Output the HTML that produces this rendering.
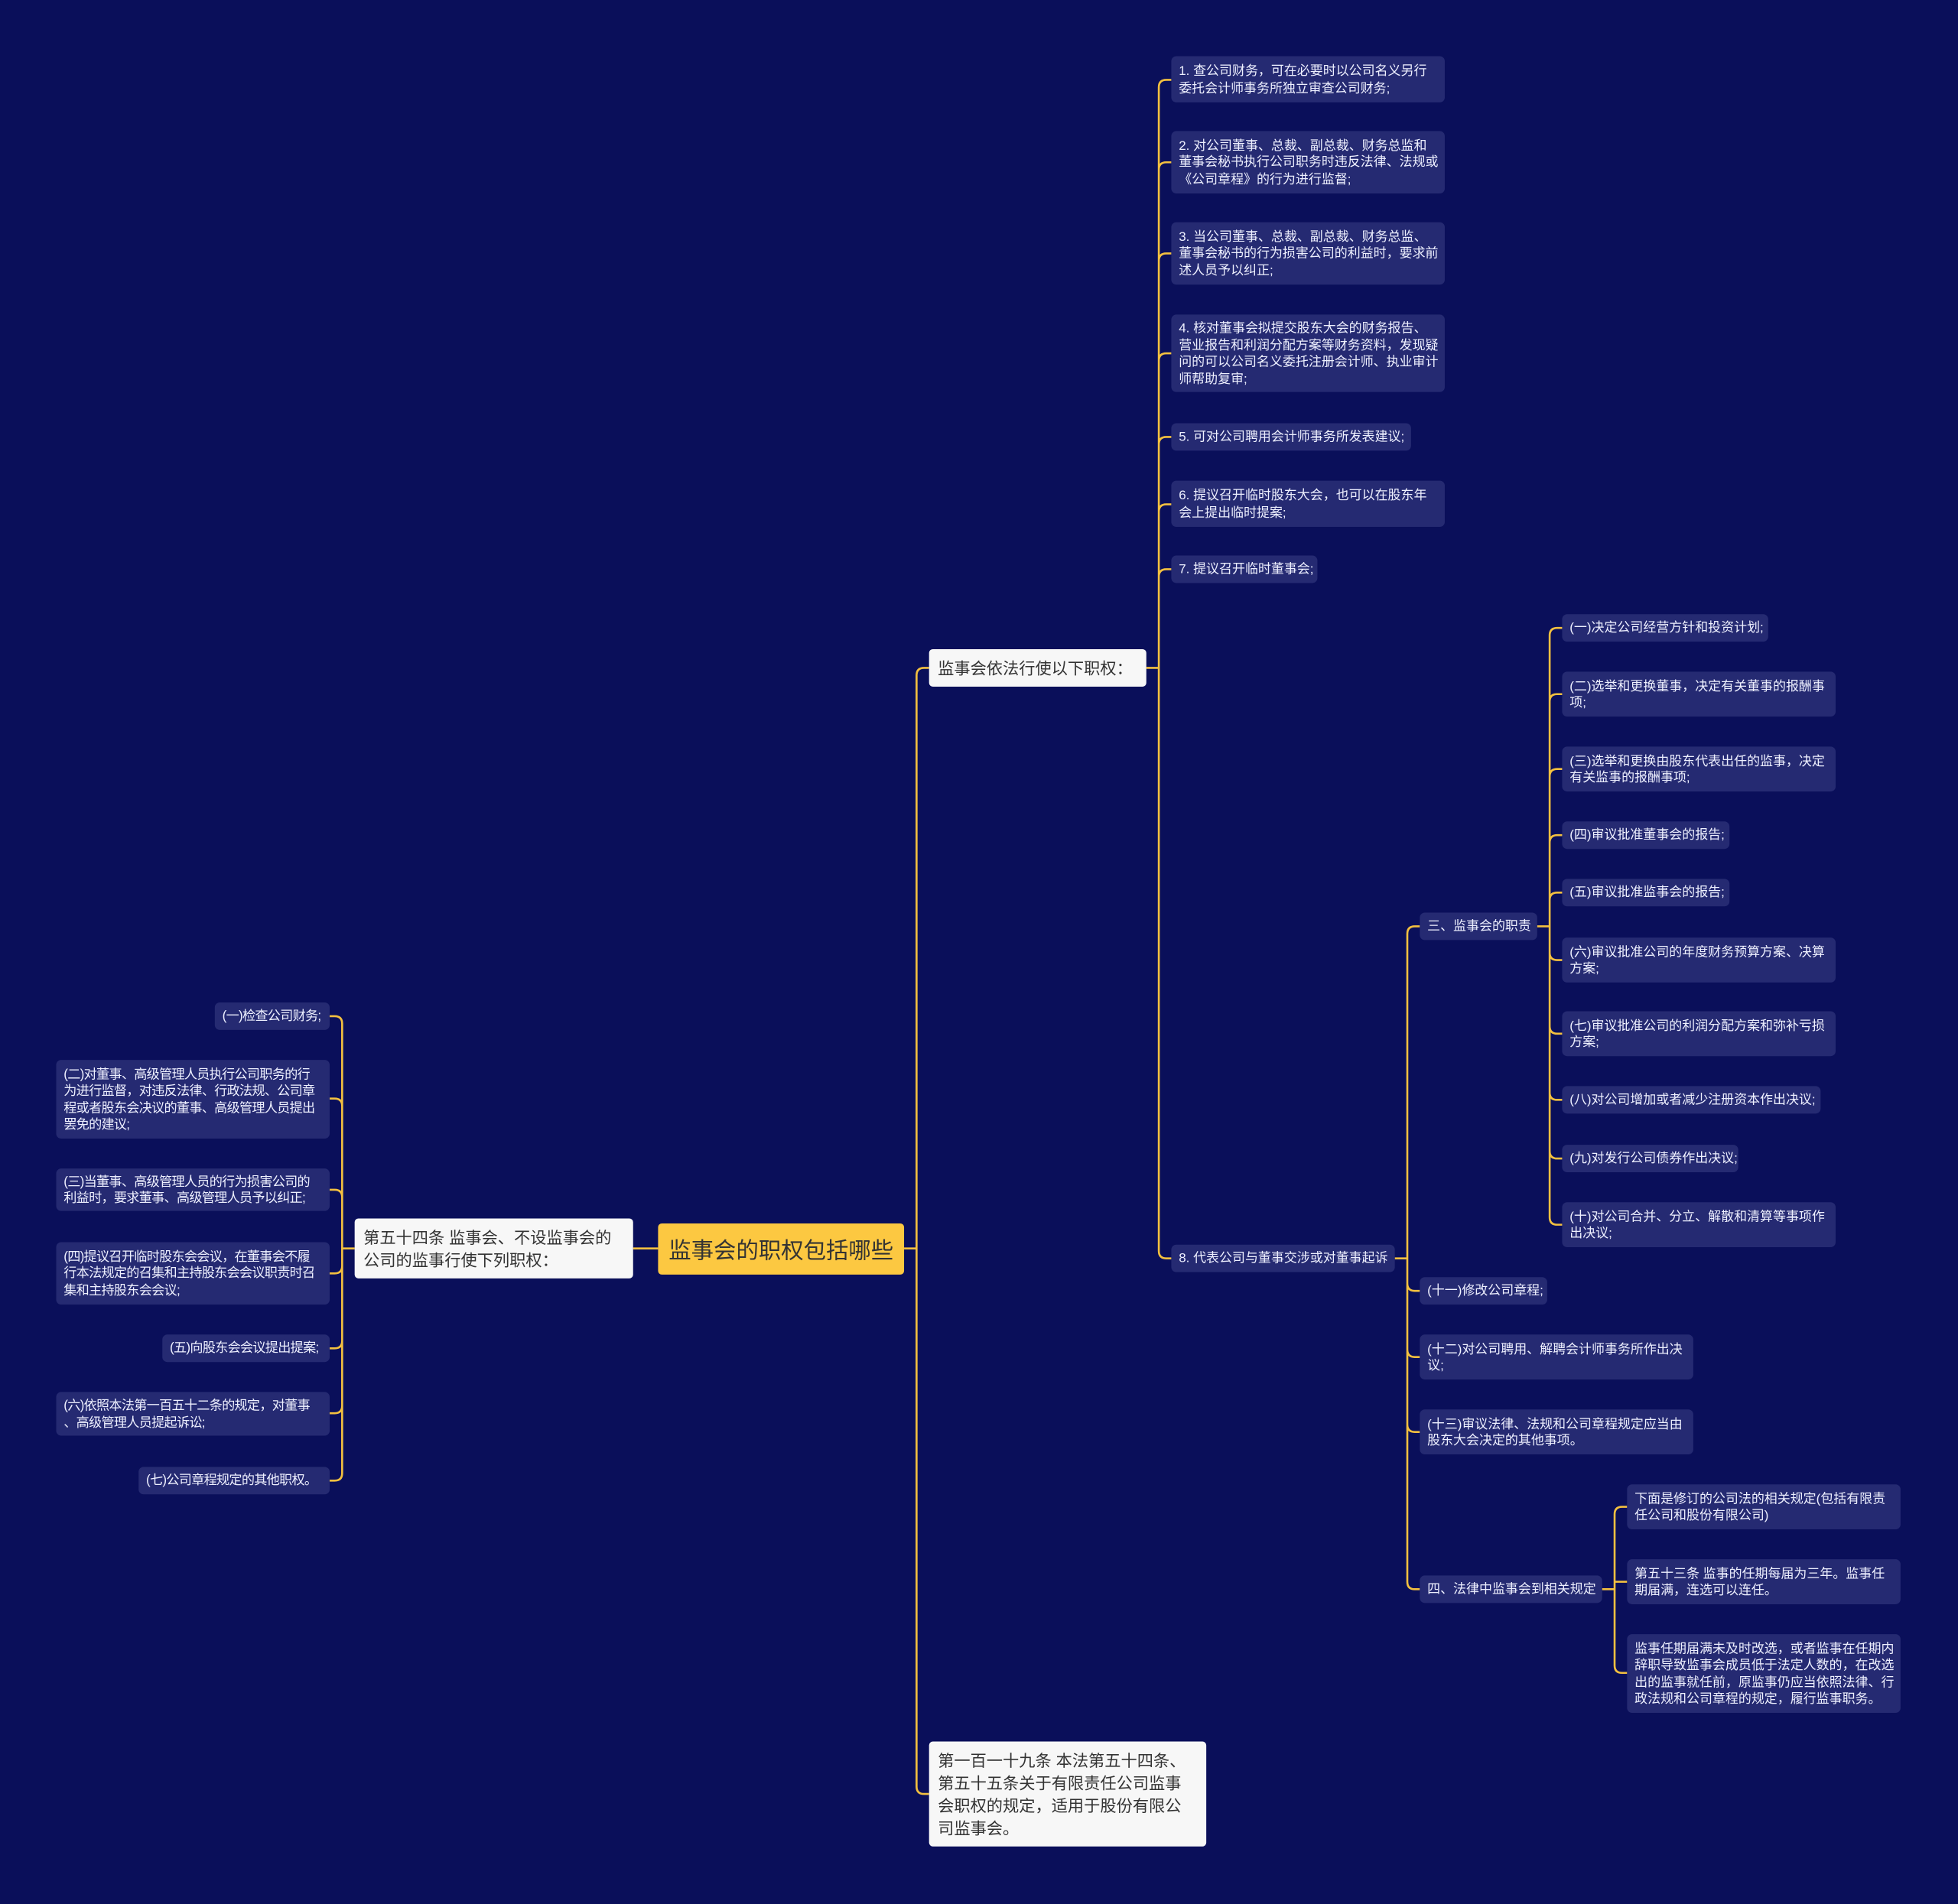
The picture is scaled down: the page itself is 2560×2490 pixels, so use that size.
<!DOCTYPE html>
<html><head><meta charset="utf-8">
<style>
html,body{margin:0;padding:0;background:#0a0f5a;width:2560px;height:2489px;overflow:hidden}
#c{position:absolute;left:0;top:0;width:1568px;height:1525px;transform:scale(1.63265);transform-origin:0 0;font-family:"Liberation Sans","Noto Sans CJK SC",sans-serif}
.n{position:absolute;background:#252a72;color:#eef0ff;font-size:10.4px;line-height:13.5px;border-radius:4px;box-sizing:border-box;padding:2px 5px 0 6px;display:flex;align-items:center;white-space:nowrap}
.l{font-size:10.5px;letter-spacing:-0.45px}
.w{position:absolute;background:#f7f7f7;color:#333;font-size:13px;line-height:18px;border-radius:3px;box-sizing:border-box;padding:2px 7px 0;display:flex;align-items:center;white-space:nowrap}
.root{position:absolute;background:#fcc841;color:#333;font-size:18px;border-radius:3px;display:flex;align-items:center;justify-content:center;left:527px;top:980px;width:197px;height:41px}
svg{position:absolute;left:0;top:0}
</style></head><body><div id="c">
<svg width="1568" height="1525" fill="none" stroke="#f3c040" stroke-width="1.6">
<path d="M724,1000H734M734,1000V541Q734,535 740,535H744M734,1000V1431Q734,1437 740,1437H744"/>
<path d="M527,1000H507"/>
<path d="M284,1000H274M274,1000V820Q274,814 268,814H264M274,1000V886Q274,880 268,880H264M274,1000V959Q274,953 268,953H264M274,1000V1014Q274,1020 268,1020H264M274,1000V1074Q274,1080 268,1080H264M274,1000V1126Q274,1132 268,1132H264M274,1000V1180Q274,1186 268,1186H264"/>
<path d="M918,535H928M928,535V70Q928,64 934,64H938M928,535V136Q928,130 934,130H938M928,535V209Q928,203 934,203H938M928,535V289Q928,283 934,283H938M928,535V356Q928,350 934,350H938M928,535V410Q928,404 934,404H938M928,535V462Q928,456 934,456H938M928,535V1002Q928,1008 934,1008H938"/>
<path d="M1117,1008H1127M1127,1008V748Q1127,742 1133,742H1137M1127,1008V1028Q1127,1034 1133,1034H1137M1127,1008V1081Q1127,1087 1133,1087H1137M1127,1008V1141Q1127,1147 1133,1147H1137M1127,1008V1267Q1127,1273 1133,1273H1137"/>
<path d="M1231,742H1241M1241,742V509Q1241,503 1247,503H1251M1241,742V562Q1241,556 1247,556H1251M1241,742V622Q1241,616 1247,616H1251M1241,742V675Q1241,669 1247,669H1251M1241,742V721Q1241,715 1247,715H1251M1241,742V763Q1241,769 1247,769H1251M1241,742V822Q1241,828 1247,828H1251M1241,742V875Q1241,881 1247,881H1251M1241,742V922Q1241,928 1247,928H1251M1241,742V975Q1241,981 1247,981H1251"/>
<path d="M1283,1273H1293M1293,1273V1213Q1293,1207 1299,1207H1303M1293,1273V1267H1303M1293,1273V1334Q1293,1340 1299,1340H1303"/>
</svg>

<div class="root">监事会的职权包括哪些</div>
<div class="w" style="left:284px;top:976px;width:223px;height:48px">第五十四条 监事会、不设监事会的<br>公司的监事行使下列职权：</div>
<div class="w" style="left:744px;top:520px;width:174px;height:30px">监事会依法行使以下职权：</div>
<div class="w" style="left:744px;top:1395px;width:222px;height:84px">第一百一十九条 本法第五十四条、<br>第五十五条关于有限责任公司监事<br>会职权的规定，适用于股份有限公<br>司监事会。</div>

<div class="n l" style="left:172px;top:803px;width:92px;height:22px">(一)检查公司财务;</div>
<div class="n l" style="left:45px;top:849px;width:219px;height:63px">(二)对董事、高级管理人员执行公司职务的行<br>为进行监督，对违反法律、行政法规、公司章<br>程或者股东会决议的董事、高级管理人员提出<br>罢免的建议;</div>
<div class="n l" style="left:45px;top:936px;width:219px;height:34px">(三)当董事、高级管理人员的行为损害公司的<br>利益时，要求董事、高级管理人员予以纠正;</div>
<div class="n l" style="left:45px;top:995px;width:219px;height:50px">(四)提议召开临时股东会会议，在董事会不履<br>行本法规定的召集和主持股东会会议职责时召<br>集和主持股东会会议;</div>
<div class="n l" style="left:130px;top:1069px;width:134px;height:22px">(五)向股东会会议提出提案;</div>
<div class="n l" style="left:45px;top:1115px;width:219px;height:35px">(六)依照本法第一百五十二条的规定，对董事<br>、高级管理人员提起诉讼;</div>
<div class="n l" style="left:111px;top:1175px;width:153px;height:22px">(七)公司章程规定的其他职权。</div>

<div class="n" style="left:938px;top:45px;width:219px;height:37px">1. 查公司财务，可在必要时以公司名义另行<br>委托会计师事务所独立审查公司财务;</div>
<div class="n" style="left:938px;top:105px;width:219px;height:50px">2. 对公司董事、总裁、副总裁、财务总监和<br>董事会秘书执行公司职务时违反法律、法规或<br>《公司章程》的行为进行监督;</div>
<div class="n" style="left:938px;top:178px;width:219px;height:50px">3. 当公司董事、总裁、副总裁、财务总监、<br>董事会秘书的行为损害公司的利益时，要求前<br>述人员予以纠正;</div>
<div class="n" style="left:938px;top:252px;width:219px;height:62px">4. 核对董事会拟提交股东大会的财务报告、<br>营业报告和利润分配方案等财务资料，发现疑<br>问的可以公司名义委托注册会计师、执业审计<br>师帮助复审;</div>
<div class="n" style="left:938px;top:339px;width:192px;height:22px">5. 可对公司聘用会计师事务所发表建议;</div>
<div class="n" style="left:938px;top:385px;width:219px;height:37px">6. 提议召开临时股东大会，也可以在股东年<br>会上提出临时提案;</div>
<div class="n" style="left:938px;top:445px;width:117px;height:22px">7. 提议召开临时董事会;</div>
<div class="n" style="left:938px;top:997px;width:179px;height:22px">8. 代表公司与董事交涉或对董事起诉</div>

<div class="n" style="left:1137px;top:731px;width:94px;height:22px">三、监事会的职责</div>
<div class="n" style="left:1137px;top:1023px;width:102px;height:22px">(十一)修改公司章程;</div>
<div class="n" style="left:1137px;top:1069px;width:219px;height:36px">(十二)对公司聘用、解聘会计师事务所作出决<br>议;</div>
<div class="n" style="left:1137px;top:1129px;width:219px;height:36px">(十三)审议法律、法规和公司章程规定应当由<br>股东大会决定的其他事项。</div>
<div class="n" style="left:1137px;top:1262px;width:146px;height:22px">四、法律中监事会到相关规定</div>

<div class="n" style="left:1251px;top:492px;width:165px;height:22px">(一)决定公司经营方针和投资计划;</div>
<div class="n" style="left:1251px;top:538px;width:219px;height:36px">(二)选举和更换董事，决定有关董事的报酬事<br>项;</div>
<div class="n" style="left:1251px;top:598px;width:219px;height:36px">(三)选举和更换由股东代表出任的监事，决定<br>有关监事的报酬事项;</div>
<div class="n" style="left:1251px;top:658px;width:134px;height:22px">(四)审议批准董事会的报告;</div>
<div class="n" style="left:1251px;top:704px;width:134px;height:22px">(五)审议批准监事会的报告;</div>
<div class="n" style="left:1251px;top:751px;width:219px;height:36px">(六)审议批准公司的年度财务预算方案、决算<br>方案;</div>
<div class="n" style="left:1251px;top:810px;width:219px;height:36px">(七)审议批准公司的利润分配方案和弥补亏损<br>方案;</div>
<div class="n" style="left:1251px;top:870px;width:207px;height:22px">(八)对公司增加或者减少注册资本作出决议;</div>
<div class="n" style="left:1251px;top:917px;width:141px;height:22px">(九)对发行公司债券作出决议;</div>
<div class="n" style="left:1251px;top:963px;width:219px;height:36px">(十)对公司合并、分立、解散和清算等事项作<br>出决议;</div>

<div class="n" style="left:1303px;top:1189px;width:219px;height:36px">下面是修订的公司法的相关规定(包括有限责<br>任公司和股份有限公司)</div>
<div class="n" style="left:1303px;top:1249px;width:219px;height:36px">第五十三条 监事的任期每届为三年。监事任<br>期届满，连选可以连任。</div>
<div class="n" style="left:1303px;top:1309px;width:219px;height:63px">监事任期届满未及时改选，或者监事在任期内<br>辞职导致监事会成员低于法定人数的，在改选<br>出的监事就任前，原监事仍应当依照法律、行<br>政法规和公司章程的规定，履行监事职务。</div>
</div></body></html>
